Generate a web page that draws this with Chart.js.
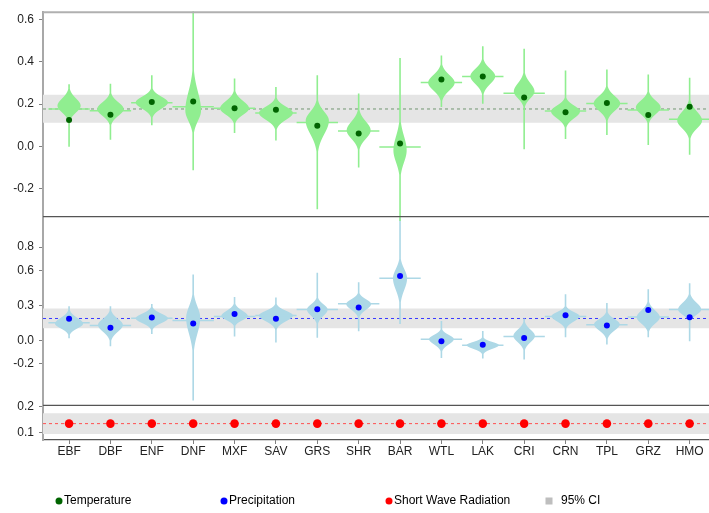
<!DOCTYPE html>
<html>
<head>
<meta charset="utf-8">
<script src="https://cdn.jsdelivr.net/npm/chart.js@4.4.1/dist/chart.umd.min.js"></script>
<style>
html, body { margin: 0; padding: 0; background: #fff; overflow: hidden; }
#contenedor { width: 720px; height: 513px; }
</style>
</head>
<body>
<div id="contenedor"><canvas id="grafica" width="720" height="513"></canvas></div>
<script>
// Categorias (tipos de cobertura)
const CATEGORIES = ['EBF', 'DBF', 'ENF', 'DNF', 'MXF', 'SAV', 'GRS', 'SHR', 'BAR', 'WTL', 'LAK', 'CRI', 'CRN', 'TPL', 'GRZ', 'HMO'];

// Temperatura (panel superior)
const TEM_DOT  = [0.125, 0.150, 0.210, 0.213, 0.180, 0.173, 0.097, 0.061, 0.013, 0.317, 0.331, 0.232, 0.161, 0.205, 0.149, 0.188];
const TEM_MEAN = [0.177, 0.169, 0.206, 0.188, 0.180, 0.158, 0.113, 0.072, -0.003, 0.302, 0.331, 0.252, 0.167, 0.203, 0.172, 0.128];
const TEM_PEAK = [0.192, 0.177, 0.208, 0.169, 0.180, 0.158, 0.122, 0.075, -0.019, 0.302, 0.333, 0.260, 0.166, 0.203, 0.185, 0.122];
const TEM_LO   = [-0.003, 0.031, 0.098, -0.115, 0.063, 0.025, -0.300, -0.101, -0.355, 0.185, 0.200, -0.014, 0.033, 0.052, 0.005, -0.042];
const TEM_HI   = [0.294, 0.297, 0.337, 0.640, 0.322, 0.281, 0.337, 0.250, 0.419, 0.431, 0.475, 0.463, 0.360, 0.364, 0.341, 0.325];
const TEM_BODY_UP = [0.066, 0.061, 0.052, 0.169, 0.066, 0.056, 0.080, 0.080, 0.127, 0.070, 0.066, 0.075, 0.052, 0.066, 0.061, 0.080];
const TEM_BODY_DN = [0.061, 0.061, 0.056, 0.094, 0.056, 0.061, 0.122, 0.075, 0.108, 0.070, 0.070, 0.061, 0.061, 0.066, 0.061, 0.070];
const TEM_WIDTH = [0.28, 0.32, 0.39, 0.19, 0.35, 0.41, 0.28, 0.29, 0.16, 0.32, 0.30, 0.25, 0.35, 0.32, 0.30, 0.30];
const TEM_CI  = [0.112, 0.244];
const TEM_REF = 0.177;

// Precipitacion (panel central)
const PRE_DOT  = [0.186, 0.110, 0.198, 0.147, 0.228, 0.186, 0.268, 0.282, 0.553, -0.005, -0.036, 0.023, 0.217, 0.130, 0.262, 0.200];
const PRE_MEAN = [0.152, 0.130, 0.190, 0.172, 0.207, 0.215, 0.265, 0.315, 0.533, 0.012, -0.040, 0.034, 0.206, 0.136, 0.201, 0.265];
const PRE_PEAK = [0.144, 0.133, 0.190, 0.194, 0.209, 0.215, 0.265, 0.313, 0.533, 0.012, -0.039, 0.040, 0.209, 0.139, 0.200, 0.265];
const PRE_LO   = [0.017, -0.053, 0.054, -0.516, 0.031, -0.017, 0.020, 0.076, 0.139, -0.152, -0.157, -0.166, 0.025, -0.036, 0.025, -0.008];
const PRE_HI   = [0.293, 0.293, 0.313, 0.566, 0.372, 0.369, 0.580, 0.499, 1.050, 0.167, 0.082, 0.189, 0.397, 0.321, 0.440, 0.490];
const PRE_BODY_UP = [0.093, 0.101, 0.076, 0.186, 0.085, 0.076, 0.085, 0.076, 0.152, 0.068, 0.051, 0.101, 0.068, 0.085, 0.110, 0.110];
const PRE_BODY_DN = [0.076, 0.110, 0.076, 0.254, 0.068, 0.093, 0.101, 0.093, 0.186, 0.085, 0.059, 0.101, 0.085, 0.101, 0.101, 0.085];
const PRE_WIDTH = [0.34, 0.30, 0.39, 0.17, 0.32, 0.41, 0.25, 0.30, 0.17, 0.30, 0.39, 0.26, 0.34, 0.31, 0.28, 0.28];
const PRE_CI  = [0.105, 0.274];
const PRE_REF = 0.189;

// Radiacion de onda corta (panel inferior)
const SWR_DOT = [0.135, 0.135, 0.135, 0.135, 0.135, 0.135, 0.135, 0.135, 0.135, 0.135, 0.135, 0.135, 0.135, 0.135, 0.135, 0.135];
const SWR_CI  = [0.095, 0.175];
const SWR_REF = 0.135;

// Ejes
const X_RANGE   = [0.37, 16.63];
const TEM_RANGE = [-0.334, 0.636];
const PRE_RANGE = [-0.555, 1.06];
const SWR_RANGE = [0.072, 0.205];
const TEM_TICKS = [-0.2, 0.0, 0.2, 0.4, 0.6];
const PRE_TICKS = [-0.2, 0.0, 0.3, 0.6, 0.8];
const SWR_TICKS = [0.1, 0.2];

const LEGEND_LABELS = ['Temperature', 'Precipitation', 'Short Wave Radiation', '95% CI'];

const FUENTE = "'Liberation Sans', Arial, sans-serif";
const COLORES = {
    temViolin: '#90ee90', temPunto: '#006400', temRef: 'rgba(40, 100, 40, 0.6)',
    preViolin: '#add8e6', prePunto: '#0000ff', preRef: '#3a3aff',
    swrPunto: '#ff0000', swrRef: '#ff5050',
    banda: '#e5e5e5', leyendaCI: '#bebebe'
};

function banda(ci, eje) {
    return {
        type: 'line',
        data: [{ x: X_RANGE[0], y: ci[1] }, { x: X_RANGE[1], y: ci[1] }],
        yAxisID: eje,
        fill: { value: ci[0] },
        backgroundColor: COLORES.banda,
        borderWidth: 0,
        pointRadius: 0,
        order: 3
    };
}

function lineaRef(valor, eje, color) {
    return {
        type: 'line',
        data: [{ x: X_RANGE[0], y: valor }, { x: X_RANGE[1], y: valor }],
        yAxisID: eje,
        borderColor: color,
        borderWidth: 1,
        borderDash: [3, 3],
        pointRadius: 0,
        fill: false,
        order: 2
    };
}

function puntos(valores, eje, color, radio, violines) {
    return {
        type: 'scatter',
        data: valores.map((v, i) => ({ x: i + 1, y: v })),
        yAxisID: eje,
        backgroundColor: color,
        borderColor: color,
        borderWidth: 0,
        pointRadius: radio,
        order: 0,
        violines: violines
    };
}

function ejeY(rango, ticks, peso) {
    return {
        type: 'linear',
        position: 'left',
        stack: 'paneles',
        stackWeight: peso,
        min: rango[0],
        max: rango[1],
        afterBuildTicks: s => { s.ticks = ticks.map(v => ({ value: v })); },
        afterFit: s => { s.width = 43; },
        border: { color: '#a8a8a8', width: 2 },
        grid: { drawOnChartArea: false, drawTicks: true, tickLength: 4, color: '#808080' },
        ticks: {
            autoSkip: false,
            padding: 5,
            color: '#222',
            font: { family: FUENTE, size: 12 },
            callback: v => v.toFixed(1)
        }
    };
}

// Dibuja los violines de un panel usando las escalas del grafico
function dibujarViolines(chart, v) {
    const xs = chart.scales.x;
    const ys = chart.scales[v.eje];
    const ctx = chart.ctx;
    ctx.save();
    ctx.fillStyle = v.color;
    ctx.strokeStyle = v.color;
    for (let i = 0; i < CATEGORIES.length; i++) {
        const cx = xs.getPixelForValue(i + 1);
        const halfW = xs.getPixelForValue(i + 1 + v.ancho[i]) - cx;
        const yPico = ys.getPixelForValue(v.pico[i]);
        const yMax = ys.getPixelForValue(v.max[i]);
        const yMin = ys.getPixelForValue(v.min[i]);
        const sArr = (yPico - ys.getPixelForValue(v.pico[i] + v.arriba[i])) / 1.35;
        const sAba = (ys.getPixelForValue(v.pico[i] - v.abajo[i]) - yPico) / 1.35;
        const pts = [];
        for (let y = yMax; y <= yMin; y += 0.5) {
            const d = y - yPico;
            const s = d < 0 ? sArr : sAba;
            const w = Math.max(0.8, halfW * Math.exp(-Math.pow(Math.abs(d) / s, 2)));
            pts.push([y, w]);
        }
        ctx.beginPath();
        pts.forEach(([y, w], k) => k ? ctx.lineTo(cx + w, y) : ctx.moveTo(cx + w, y));
        for (let k = pts.length - 1; k >= 0; k--) ctx.lineTo(cx - pts[k][1], pts[k][0]);
        ctx.closePath();
        ctx.fill();

        // linea horizontal de la media
        const yM = ys.getPixelForValue(v.media[i]);
        ctx.lineWidth = 1.5;
        ctx.beginPath();
        ctx.moveTo(xs.getPixelForValue(i + 0.5), yM);
        ctx.lineTo(xs.getPixelForValue(i + 1.5), yM);
        ctx.stroke();
    }
    ctx.restore();
}

const pluginViolines = {
    id: 'violines',
    beforeDatasetDraw(chart, args) {
        const ds = chart.data.datasets[args.index];
        if (ds.violines) dibujarViolines(chart, ds.violines);
    }
};

// Marco de los paneles y leyenda inferior
const pluginMarco = {
    id: 'marco',
    afterDraw(chart) {
        const ctx = chart.ctx;
        const area = chart.chartArea;
        ctx.save();
        ctx.strokeStyle = '#b0b0b0';
        ctx.lineWidth = 2;
        ctx.beginPath();
        ctx.moveTo(area.left, area.top);
        ctx.lineTo(area.right, area.top);
        ctx.stroke();

        ctx.strokeStyle = '#555';
        ctx.lineWidth = 1.2;
        ['yTem', 'yPre'].forEach(id => {
            const y = chart.scales[id].bottom;
            ctx.beginPath();
            ctx.moveTo(area.left, y);
            ctx.lineTo(area.right, y);
            ctx.stroke();
        });

        // leyenda
        const colores = [COLORES.temPunto, COLORES.prePunto, COLORES.swrPunto, COLORES.leyendaCI];
        const posX = [59, 224, 389, 549];
        const yLey = 501;
        ctx.font = '12px ' + FUENTE;
        ctx.textBaseline = 'middle';
        LEGEND_LABELS.forEach((txt, i) => {
            ctx.fillStyle = colores[i];
            if (i < 3) {
                ctx.beginPath();
                ctx.arc(posX[i], yLey, 3.5, 0, Math.PI * 2);
                ctx.fill();
            } else {
                ctx.fillRect(posX[i] - 3.5, yLey - 3.5, 7, 7);
            }
            ctx.fillStyle = '#000';
            ctx.fillText(txt, posX[i] + (i < 3 ? 5 : 12), yLey);
        });
        ctx.restore();
    }
};

const violinesTem = {
    eje: 'yTem', color: COLORES.temViolin, pico: TEM_PEAK, media: TEM_MEAN,
    min: TEM_LO, max: TEM_HI, arriba: TEM_BODY_UP, abajo: TEM_BODY_DN, ancho: TEM_WIDTH
};
const violinesPre = {
    eje: 'yPre', color: COLORES.preViolin, pico: PRE_PEAK, media: PRE_MEAN,
    min: PRE_LO, max: PRE_HI, arriba: PRE_BODY_UP, abajo: PRE_BODY_DN, ancho: PRE_WIDTH
};

new Chart(document.getElementById('grafica'), {
    type: 'line',
    data: {
        datasets: [
            banda(TEM_CI, 'yTem'),
            banda(PRE_CI, 'yPre'),
            banda(SWR_CI, 'ySwr'),
            lineaRef(TEM_REF, 'yTem', COLORES.temRef),
            lineaRef(PRE_REF, 'yPre', COLORES.preRef),
            lineaRef(SWR_REF, 'ySwr', COLORES.swrRef),
            puntos(TEM_DOT, 'yTem', COLORES.temPunto, 3, violinesTem),
            puntos(PRE_DOT, 'yPre', COLORES.prePunto, 3, violinesPre),
            puntos(SWR_DOT, 'ySwr', COLORES.swrPunto, 4.3, null)
        ]
    },
    options: {
        responsive: false,
        animation: false,
        layout: { padding: { top: 7, right: 2, left: 0, bottom: 0 } },
        plugins: { legend: { display: false }, tooltip: { enabled: false } },
        scales: {
            x: {
                type: 'linear',
                min: X_RANGE[0],
                max: X_RANGE[1],
                afterBuildTicks: s => { s.ticks = CATEGORIES.map((c, i) => ({ value: i + 1 })); },
                afterFit: s => { s.height = 73; },
                border: { color: '#555', width: 1.2 },
                grid: { drawOnChartArea: false, drawTicks: true, tickLength: 4, color: '#808080' },
                ticks: {
                    autoSkip: false,
                    maxRotation: 0,
                    padding: 0,
                    color: '#222',
                    font: { family: FUENTE, size: 12 },
                    callback: v => CATEGORIES[Math.round(v) - 1] || ''
                }
            },
            ySwr: ejeY(SWR_RANGE, SWR_TICKS, 35),
            yPre: ejeY(PRE_RANGE, PRE_TICKS, 191),
            yTem: ejeY(TEM_RANGE, TEM_TICKS, 207)
        }
    },
    plugins: [pluginViolines, pluginMarco]
});
</script>
</body>
</html>
